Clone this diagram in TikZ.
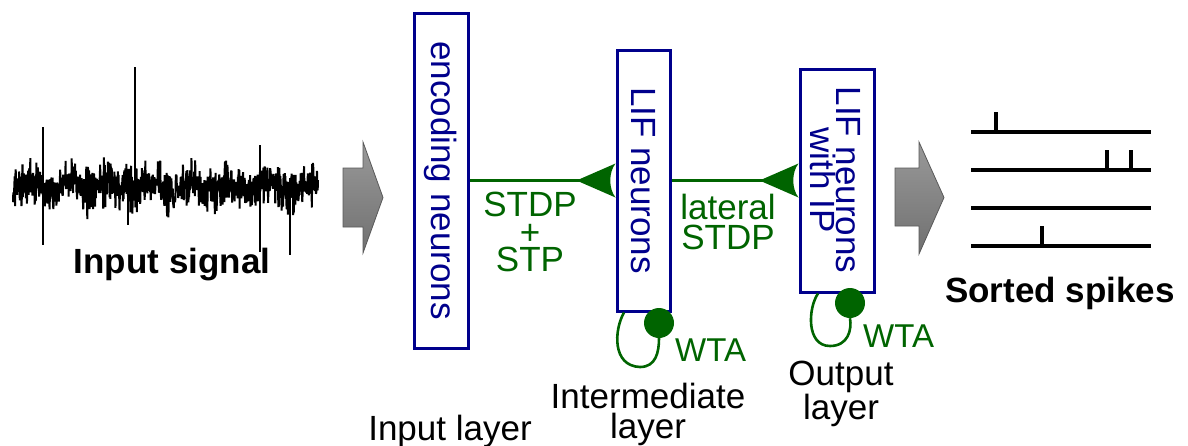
\documentclass[tikz,border=0pt]{standalone}
\usepackage{fontspec}
\setmainfont{Liberation Sans}
\usetikzlibrary{calc}
\definecolor{nblue}{RGB}{0,0,140}
\definecolor{dgreen}{RGB}{0,100,0}
\tikzset{
  synapse/.pic={\fill[dgreen] (-39,0) -- (0,-17) .. controls (-7,-8) and (-7,8) .. (0,17) -- cycle;}
}
\begin{document}
\begin{tikzpicture}[x=1pt,y=-1pt,
  box/.style={draw=nblue, line width=3pt, inner sep=0pt, fill=white},
  boxtext/.style={text=nblue, font=\fontsize{35}{26}\selectfont, rotate=-90, align=center, inner sep=0pt},
  lbl/.style={font=\fontsize{35}{30}\selectfont, align=center, inner sep=0pt},
  glbl/.style={lbl, text=dgreen},
  boldlbl/.style={font=\fontsize{35}{40}\selectfont\bfseries, inner sep=0pt},
  syn/.style={draw=dgreen, line width=3pt},
  dot/.style={circle, fill=dgreen, minimum size=30pt, inner sep=0pt},
  garrow/.style={draw=black!65, line width=0.8pt, top color=black!40, bottom color=black!56},
  train/.style={line width=3.2pt, line cap=butt},
  spk/.style={line width=1.8pt},
]
\useasboundingbox (0,0) rectangle (1188,445);

% input signal
\pgfmathsetseed{12}
\draw[line width=2pt, line join=bevel] plot[variable=\t, samples=900, domain=13:318] ({\t},{187+5*sin(\t*9)+10.5*(rand+rand+rand)});
\draw[spk] (43,127) -- (43,245);
\draw[spk] (135,67) -- (135,195);
\draw[spk] (128,185) -- (128,225);
\draw[spk] (260,145) -- (260,252);
\draw[spk] (290,185) -- (290,255);
\node[boldlbl, anchor=base] (insig) at (172,273) {Input signal};

% gray arrows
\draw[garrow] (343,168) -- (363,168) -- (363,142) -- (383,197.5) -- (363,253) -- (363,227) -- (343,227) -- cycle;
\draw[garrow] (895,168) -- (919,168) -- (919,142) -- (944,197.5) -- (919,254) -- (919,226) -- (895,226) -- cycle;

% boxes
\node[box, minimum width=54pt, minimum height=335pt] (enc) at (441,180.5) {};
\node[boxtext] (enctext) at (enc.center) {encoding neurons};
\node[box, minimum width=53pt, minimum height=261pt] (lif1) at (643.5,180.5) {};
\node[boxtext] (lif1text) at (lif1.center) {LIF neurons};
\node[box, minimum width=74pt, minimum height=223pt] (lif2) at (837,180.5) {};
\node[boxtext] (lif2text) at (835,180) {LIF neurons\\with IP};

% synapses
\draw[syn] (enc.east) -- ($(lif1.west)+(-30,0)$);
\pic at (lif1.west) {synapse};
\draw[syn] (lif1.east) -- ($(lif2.west)+(-30,0)$);
\pic at (lif2.west) {synapse};
\node[glbl, font=\fontsize{35}{27.5}\selectfont] (stdp) at (530,232) {STDP\\+\\STP};
\node[glbl] (lat) at (728,222) {lateral\\STDP};

% WTA loops
\node[dot] (dot1) at (659,323) {};
\draw[syn, line width=2.6pt] ($(lif1.south)+(-19.5,0)$) .. controls (614,330) and (612,366) .. (640,367) .. controls (656,367) and (659,352) .. (dot1.south);
\node[dot] (dot2) at (850,303) {};
\draw[syn, line width=2.6pt] ($(lif2.south)+(-19,0)$) .. controls (808,308) and (806,346) .. (830,346) .. controls (848,346) and (852,330) .. (dot2.south);
\node[glbl, font=\fontsize{33}{33}\selectfont, anchor=west] (wta1) at (675,350) {WTA};
\node[glbl, font=\fontsize{33}{33}\selectfont, anchor=west] (wta2) at (863,336) {WTA};

% layer labels
\node[lbl, anchor=base] (inlayer) at (450,440) {Input layer};
\node[lbl] (intlayer) at (648,414) {Intermediate\\layer};
\node[lbl] (outlayer) at (841,394) {Output\\layer};

% sorted spikes
\foreach \y in {132,170,208,246} \draw[train] (971,\y) -- (1151,\y);
\draw[train] (996,132) -- (996,112);
\draw[train] (1107,170) -- (1107,150);
\draw[train] (1131,170) -- (1131,150);
\draw[train] (1042,246) -- (1042,226);
\node[boldlbl, anchor=base] (sorted) at (1060,302) {Sorted spikes};
\end{tikzpicture}
\end{document}
